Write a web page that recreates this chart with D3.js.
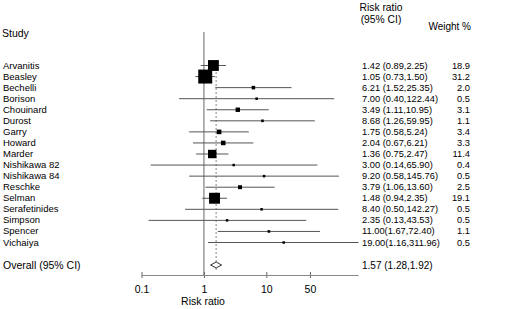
<!DOCTYPE html>
<html>
<head>
<meta charset="utf-8">
<script src="https://cdn.jsdelivr.net/npm/d3@7"></script>
<style>
  body { margin: 0; background: #fff; }
  text { font-family: "Liberation Sans", Arial, sans-serif; fill: #000; }
</style>
</head>
<body>
<div id="chart"></div>
<script>
var studies = ["Arvanitis", "Beasley", "Bechelli", "Borison", "Chouinard", "Durost", "Garry",
    "Howard", "Marder", "Nishikawa 82", "Nishikawa 84", "Reschke", "Selman", "Serafetinides",
    "Simpson", "Spencer", "Vichaiya"];
var rr = [1.42, 1.05, 6.21, 7.00, 3.49, 8.68, 1.75, 2.04, 1.36, 3.00, 9.20, 3.79, 1.48, 8.40, 2.35, 11.00, 19.00];
var lower = [0.89, 0.73, 1.52, 0.40, 1.11, 1.26, 0.58, 0.67, 0.75, 0.14, 0.58, 1.06, 0.94, 0.50, 0.13, 1.67, 1.16];
var upper = [2.25, 1.50, 25.35, 122.44, 10.95, 59.95, 5.24, 6.21, 2.47, 65.90, 145.76, 13.60, 2.35, 142.27, 43.53, 72.40, 311.96];
var weights = [18.9, 31.2, 2.0, 0.5, 3.1, 1.1, 3.4, 3.3, 11.4, 0.4, 0.5, 2.5, 19.1, 0.5, 0.5, 1.1, 0.5];
var ciLabels = ["1.42 (0.89,2.25)", "1.05 (0.73,1.50)", "6.21 (1.52,25.35)", "7.00 (0.40,122.44)",
    "3.49 (1.11,10.95)", "8.68 (1.26,59.95)", "1.75 (0.58,5.24)", "2.04 (0.67,6.21)",
    "1.36 (0.75,2.47)", "3.00 (0.14,65.90)", "9.20 (0.58,145.76)", "3.79 (1.06,13.60)",
    "1.48 (0.94,2.35)", "8.40 (0.50,142.27)", "2.35 (0.13,43.53)", "11.00(1.67,72.40)",
    "19.00(1.16,311.96)"];
var overall = [1.57, 1.28, 1.92];
var overallLabel = "1.57 (1.28,1.92)";
var tickValues = [0.1, 1, 10, 50];

function init() {
    var w = 506;
    var h = 309;

    var svg = d3.select("#chart")
        .append("svg")
        .attr("width", w)
        .attr("height", h);

    var xScale = d3.scaleLog()
        .domain([0.1, 300])
        .range([141.5, 358.5]);

    var yScale = d3.scalePoint()
        .domain(studies)
        .range([65, 242]);

    var overallY = 265;
    var axisY = 275.5;

    // headers
    svg.append("text").attr("x", 2).attr("y", 37).attr("font-size", "10.5px").text("Study");
    svg.append("text").attr("x", 381).attr("y", 11).attr("font-size", "10.3px")
        .attr("text-anchor", "middle").text("Risk ratio");
    svg.append("text").attr("x", 381).attr("y", 23).attr("font-size", "10.3px")
        .attr("text-anchor", "middle").text("(95% CI)");
    svg.append("text").attr("x", 471).attr("y", 30).attr("font-size", "10px")
        .attr("text-anchor", "end").text("Weight %");

    // reference line at 1
    svg.append("line")
        .attr("x1", xScale(1)).attr("x2", xScale(1))
        .attr("y1", 32).attr("y2", axisY)
        .attr("stroke", "#999").attr("stroke-width", 1.5);

    // overall dotted line
    svg.append("line")
        .attr("x1", xScale(overall[0])).attr("x2", xScale(overall[0]))
        .attr("y1", 60).attr("y2", overallY + 5)
        .attr("stroke", "#999").attr("stroke-width", 1.2)
        .attr("stroke-dasharray", "2,2");

    var idx = d3.range(studies.length);
    var clip = function(v) { return Math.max(0.1, Math.min(300, v)); };
    var side = function(i) { return Math.max(2.5, Math.sqrt(weights[i]) * 2.5); };

    // CI lines
    svg.selectAll("line.ci")
        .data(idx)
        .enter()
        .append("line")
        .attr("class", "ci")
        .attr("x1", function(i) { return xScale(clip(lower[i])); })
        .attr("x2", function(i) { return xScale(clip(upper[i])); })
        .attr("y1", function(i) { return yScale(studies[i]) + 0.5; })
        .attr("y2", function(i) { return yScale(studies[i]) + 0.5; })
        .attr("stroke", "#555")
        .attr("stroke-width", 1);

    // squares
    svg.selectAll("rect.box")
        .data(idx)
        .enter()
        .append("rect")
        .attr("class", "box")
        .attr("x", function(i) { return xScale(rr[i]) - side(i) / 2; })
        .attr("y", function(i) { return yScale(studies[i]) + 0.5 - side(i) / 2; })
        .attr("width", side)
        .attr("height", side)
        .attr("fill", "#000");

    // study names
    svg.selectAll("text.name")
        .data(idx)
        .enter()
        .append("text")
        .attr("class", "name")
        .attr("x", 3)
        .attr("y", function(i) { return yScale(studies[i]) + 3.5; })
        .attr("font-size", "9.5px")
        .text(function(i) { return studies[i]; });

    svg.selectAll("text.ci-label")
        .data(idx)
        .enter()
        .append("text")
        .attr("class", "ci-label")
        .attr("x", 362)
        .attr("y", function(i) { return yScale(studies[i]) + 3.5; })
        .attr("font-size", "9.3px")
        .text(function(i) { return ciLabels[i]; });

    svg.selectAll("text.weight")
        .data(idx)
        .enter()
        .append("text")
        .attr("class", "weight")
        .attr("x", 470)
        .attr("y", function(i) { return yScale(studies[i]) + 3.5; })
        .attr("font-size", "9.3px")
        .attr("text-anchor", "end")
        .text(function(i) { return weights[i].toFixed(1); });

    // overall row
    svg.append("text").attr("x", 3).attr("y", overallY + 4).attr("font-size", "10.5px")
        .text("Overall (95% CI)");
    svg.append("text").attr("x", 362).attr("y", overallY + 4).attr("font-size", "10px")
        .text(overallLabel);
    var diamond = [
        [xScale(overall[1]), overallY],
        [xScale(overall[0]), overallY - 3],
        [xScale(overall[2]), overallY],
        [xScale(overall[0]), overallY + 3]
    ];
    svg.append("path")
        .attr("d", d3.line()(diamond) + "Z")
        .attr("fill", "#fff")
        .attr("stroke", "#333")
        .attr("stroke-width", 1);

    // x axis
    var xAxis = d3.axisBottom(xScale)
        .tickValues(tickValues)
        .tickFormat(function(d) { return String(d); })
        .tickSizeInner(6)
        .tickSizeOuter(0);

    var gx = svg.append("g")
        .attr("class", "axis")
        .attr("transform", "translate(0," + (axisY - 3.5) + ")")
        .call(xAxis);
    gx.select(".domain").remove();
    gx.selectAll("line").attr("stroke", "#666");
    gx.selectAll("text")
        .attr("font-size", "10.5px")
        .attr("fill", "#000")
        .attr("y", 21)
        .attr("dy", 0);

    svg.append("line")
        .attr("x1", xScale(0.1)).attr("x2", xScale(300))
        .attr("y1", axisY).attr("y2", axisY)
        .attr("stroke", "#888").attr("stroke-width", 1.2);

    svg.append("text").attr("x", 203).attr("y", 305).attr("font-size", "10.5px")
        .attr("text-anchor", "middle").text("Risk ratio");
}

window.onload = init;
</script>
</body>
</html>
